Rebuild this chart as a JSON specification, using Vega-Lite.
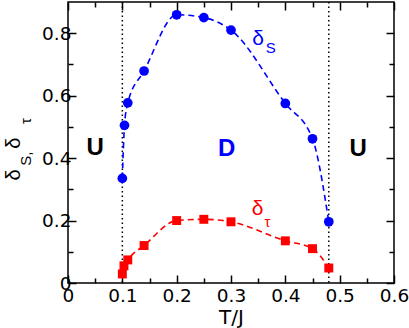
{
  "$schema": "https://vega.github.io/schema/vega-lite/v6.json",
  "width": 326,
  "height": 281,
  "autosize": "none",
  "padding": {"left": 68, "top": 2, "right": 15, "bottom": 45},
  "background": "white",
  "config": {
    "view": {"stroke": "black", "strokeWidth": 1.5},
    "font": "DejaVu Sans"
  },
  "datasets": {
    "curves": [
      {"series": "S", "T": 0.1, "delta": 0.335},
      {"series": "S", "T": 0.104, "delta": 0.505},
      {"series": "S", "T": 0.11, "delta": 0.577},
      {"series": "S", "T": 0.14, "delta": 0.679},
      {"series": "S", "T": 0.2, "delta": 0.859},
      {"series": "S", "T": 0.25, "delta": 0.85},
      {"series": "S", "T": 0.3, "delta": 0.81},
      {"series": "S", "T": 0.4, "delta": 0.575},
      {"series": "S", "T": 0.45, "delta": 0.462},
      {"series": "S", "T": 0.48, "delta": 0.196},
      {"series": "tau", "T": 0.1, "delta": 0.029},
      {"series": "tau", "T": 0.103, "delta": 0.055},
      {"series": "tau", "T": 0.11, "delta": 0.074},
      {"series": "tau", "T": 0.14, "delta": 0.12},
      {"series": "tau", "T": 0.2, "delta": 0.2},
      {"series": "tau", "T": 0.25, "delta": 0.204},
      {"series": "tau", "T": 0.3, "delta": 0.196},
      {"series": "tau", "T": 0.4, "delta": 0.135},
      {"series": "tau", "T": 0.45, "delta": 0.11},
      {"series": "tau", "T": 0.48, "delta": 0.048}
    ],
    "vlines": [{"T": 0.1}, {"T": 0.48}],
    "phases": [
      {"label": "U", "T": 0.05, "delta": 0.432, "kind": "U"},
      {"label": "D", "T": 0.292, "delta": 0.428, "kind": "D"},
      {"label": "U", "T": 0.534, "delta": 0.428, "kind": "U"}
    ],
    "bigsym": [
      {"label": "δ", "T": 0.3497, "delta": 0.783, "series": "S"},
      {"label": "δ", "T": 0.3488, "delta": 0.2386, "series": "tau"}
    ],
    "subsym": [
      {"label": "S", "T": 0.373, "delta": 0.753, "series": "S"},
      {"label": "τ", "T": 0.3672, "delta": 0.1938, "series": "tau"}
    ],
    "ytitleBig": [
      {"label": "δ", "T": -0.1, "delta": 0.346},
      {"label": "δ", "T": -0.1, "delta": 0.448}
    ],
    "ytitleSub": [
      {"label": "S,", "T": -0.077, "delta": 0.398},
      {"label": "τ", "T": -0.078, "delta": 0.519}
    ]
  },
  "resolve": {
    "axis": {"x": "independent", "y": "independent"},
    "scale": {"color": "independent"}
  },
  "layer": [
    {
      "data": {"name": "vlines"},
      "mark": {"type": "rule", "color": "black", "strokeWidth": 1.5, "strokeDash": [1.5, 3]},
      "encoding": {
        "x": {
          "field": "T", "type": "quantitative",
          "scale": {"domain": [0, 0.6], "nice": false, "zero": false},
          "axis": null
        }
      }
    },
    {
      "data": {"name": "curves"},
      "transform": [{"filter": "datum.series == 'S'"}],
      "mark": {"type": "line", "color": "#0000ff", "strokeWidth": 1.6, "strokeDash": [6, 4], "interpolate": "monotone"},
      "encoding": {
        "x": {
          "field": "T", "type": "quantitative",
          "axis": {
            "orient": "top",
            "values": [0, 0.05, 0.1, 0.15, 0.2, 0.25, 0.3, 0.35, 0.4, 0.45, 0.5, 0.55, 0.6],
            "labels": false,
            "tickSize": {"condition": {"test": "abs(datum.value*10 - round(datum.value*10)) > 0.01", "value": -5}, "value": -8},
            "tickColor": "black",
            "tickWidth": 1.5,
            "domain": false,
            "grid": false,
            "title": null
          }
        },
        "y": {
          "field": "delta", "type": "quantitative",
          "scale": {"domain": [0, 0.9], "nice": false, "zero": false},
          "axis": {
            "orient": "right",
            "values": [0, 0.1, 0.2, 0.3, 0.4, 0.5, 0.6, 0.7, 0.8],
            "labels": false,
            "tickSize": {"condition": {"test": "abs(datum.value*5 - round(datum.value*5)) > 0.01", "value": -5}, "value": -8},
            "tickColor": "black",
            "tickWidth": 1.5,
            "domain": false,
            "grid": false,
            "title": null
          }
        }
      }
    },
    {
      "data": {"name": "curves"},
      "transform": [{"filter": "datum.series == 'tau'"}],
      "mark": {"type": "line", "color": "#ff0000", "strokeWidth": 1.6, "strokeDash": [6, 4], "interpolate": "monotone"},
      "encoding": {
        "x": {
          "field": "T", "type": "quantitative",
          "axis": {
            "orient": "bottom",
            "values": [0, 0.05, 0.1, 0.15, 0.2, 0.25, 0.3, 0.35, 0.4, 0.45, 0.5, 0.55, 0.6],
            "labelExpr": "abs(datum.value*10 - round(datum.value*10)) > 0.01 ? '' : (datum.value == 0 ? '0' : format(datum.value, '.1f'))",
            "tickSize": {"condition": {"test": "abs(datum.value*10 - round(datum.value*10)) > 0.01", "value": -5}, "value": -8},
            "tickColor": "black",
            "tickWidth": 1.5,
            "domain": false,
            "grid": false,
            "labelFont": "DejaVu Sans",
            "labelFontSize": 18.5,
            "labelColor": "black",
            "labelPadding": 11,
            "labelFlush": false,
            "labelOverlap": false,
            "title": "T/J",
            "titleFont": "DejaVu Sans",
            "titleFontSize": 20,
            "titleFontWeight": "normal",
            "titleColor": "black",
            "titlePadding": 0
          }
        },
        "y": {
          "field": "delta", "type": "quantitative",
          "axis": {
            "orient": "left",
            "values": [0, 0.1, 0.2, 0.3, 0.4, 0.5, 0.6, 0.7, 0.8],
            "labelExpr": "abs(datum.value*5 - round(datum.value*5)) > 0.01 ? '' : (datum.value == 0 ? '0' : format(datum.value, '.1f'))",
            "tickSize": {"condition": {"test": "abs(datum.value*5 - round(datum.value*5)) > 0.01", "value": -5}, "value": -8},
            "tickColor": "black",
            "tickWidth": 1.5,
            "domain": false,
            "grid": false,
            "labelFont": "DejaVu Sans",
            "labelFontSize": 18.5,
            "labelColor": "black",
            "labelPadding": 5,
            "labelFlush": false,
            "labelOverlap": false,
            "title": null
          }
        }
      }
    },
    {
      "data": {"name": "curves"},
      "transform": [{"filter": "datum.series == 'S'"}],
      "mark": {"type": "point", "shape": "circle", "filled": true, "color": "#0000ff", "opacity": 1, "size": 95},
      "encoding": {
        "x": {"field": "T", "type": "quantitative", "axis": null},
        "y": {"field": "delta", "type": "quantitative", "axis": null}
      }
    },
    {
      "data": {"name": "curves"},
      "transform": [{"filter": "datum.series == 'tau'"}],
      "mark": {"type": "point", "shape": "square", "filled": true, "color": "#ff0000", "opacity": 1, "size": 80},
      "encoding": {
        "x": {"field": "T", "type": "quantitative", "axis": null},
        "y": {"field": "delta", "type": "quantitative", "axis": null}
      }
    },
    {
      "data": {"name": "phases"},
      "mark": {"type": "text", "font": "Liberation Sans", "fontWeight": "bold", "fontSize": 24, "align": "center", "baseline": "middle"},
      "encoding": {
        "x": {"field": "T", "type": "quantitative", "axis": null},
        "y": {"field": "delta", "type": "quantitative", "axis": null},
        "text": {"field": "label"},
        "color": {"field": "kind", "type": "nominal", "scale": {"domain": ["U", "D"], "range": ["#000000", "#0000ff"]}, "legend": null}
      }
    },
    {
      "data": {"name": "bigsym"},
      "mark": {"type": "text", "font": "Liberation Sans", "fontSize": 21, "align": "center", "baseline": "middle"},
      "encoding": {
        "x": {"field": "T", "type": "quantitative", "axis": null},
        "y": {"field": "delta", "type": "quantitative", "axis": null},
        "text": {"field": "label"},
        "color": {"field": "series", "type": "nominal", "scale": {"domain": ["S", "tau"], "range": ["#0000ff", "#ff0000"]}, "legend": null}
      }
    },
    {
      "data": {"name": "subsym"},
      "mark": {"type": "text", "font": "Liberation Sans", "fontSize": 15, "align": "center", "baseline": "middle"},
      "encoding": {
        "x": {"field": "T", "type": "quantitative", "axis": null},
        "y": {"field": "delta", "type": "quantitative", "axis": null},
        "text": {"field": "label"},
        "color": {"field": "series", "type": "nominal", "scale": {"domain": ["S", "tau"], "range": ["#0000ff", "#ff0000"]}, "legend": null}
      }
    },
    {
      "data": {"name": "ytitleBig"},
      "mark": {"type": "text", "font": "Liberation Sans", "fontSize": 20, "angle": 270, "align": "center", "baseline": "middle", "color": "black"},
      "encoding": {
        "x": {"field": "T", "type": "quantitative", "axis": null},
        "y": {"field": "delta", "type": "quantitative", "axis": null},
        "text": {"field": "label"}
      }
    },
    {
      "data": {"name": "ytitleSub"},
      "mark": {"type": "text", "font": "Liberation Sans", "fontSize": 15, "angle": 270, "align": "center", "baseline": "middle", "color": "black"},
      "encoding": {
        "x": {"field": "T", "type": "quantitative", "axis": null},
        "y": {"field": "delta", "type": "quantitative", "axis": null},
        "text": {"field": "label"}
      }
    }
  ]
}
